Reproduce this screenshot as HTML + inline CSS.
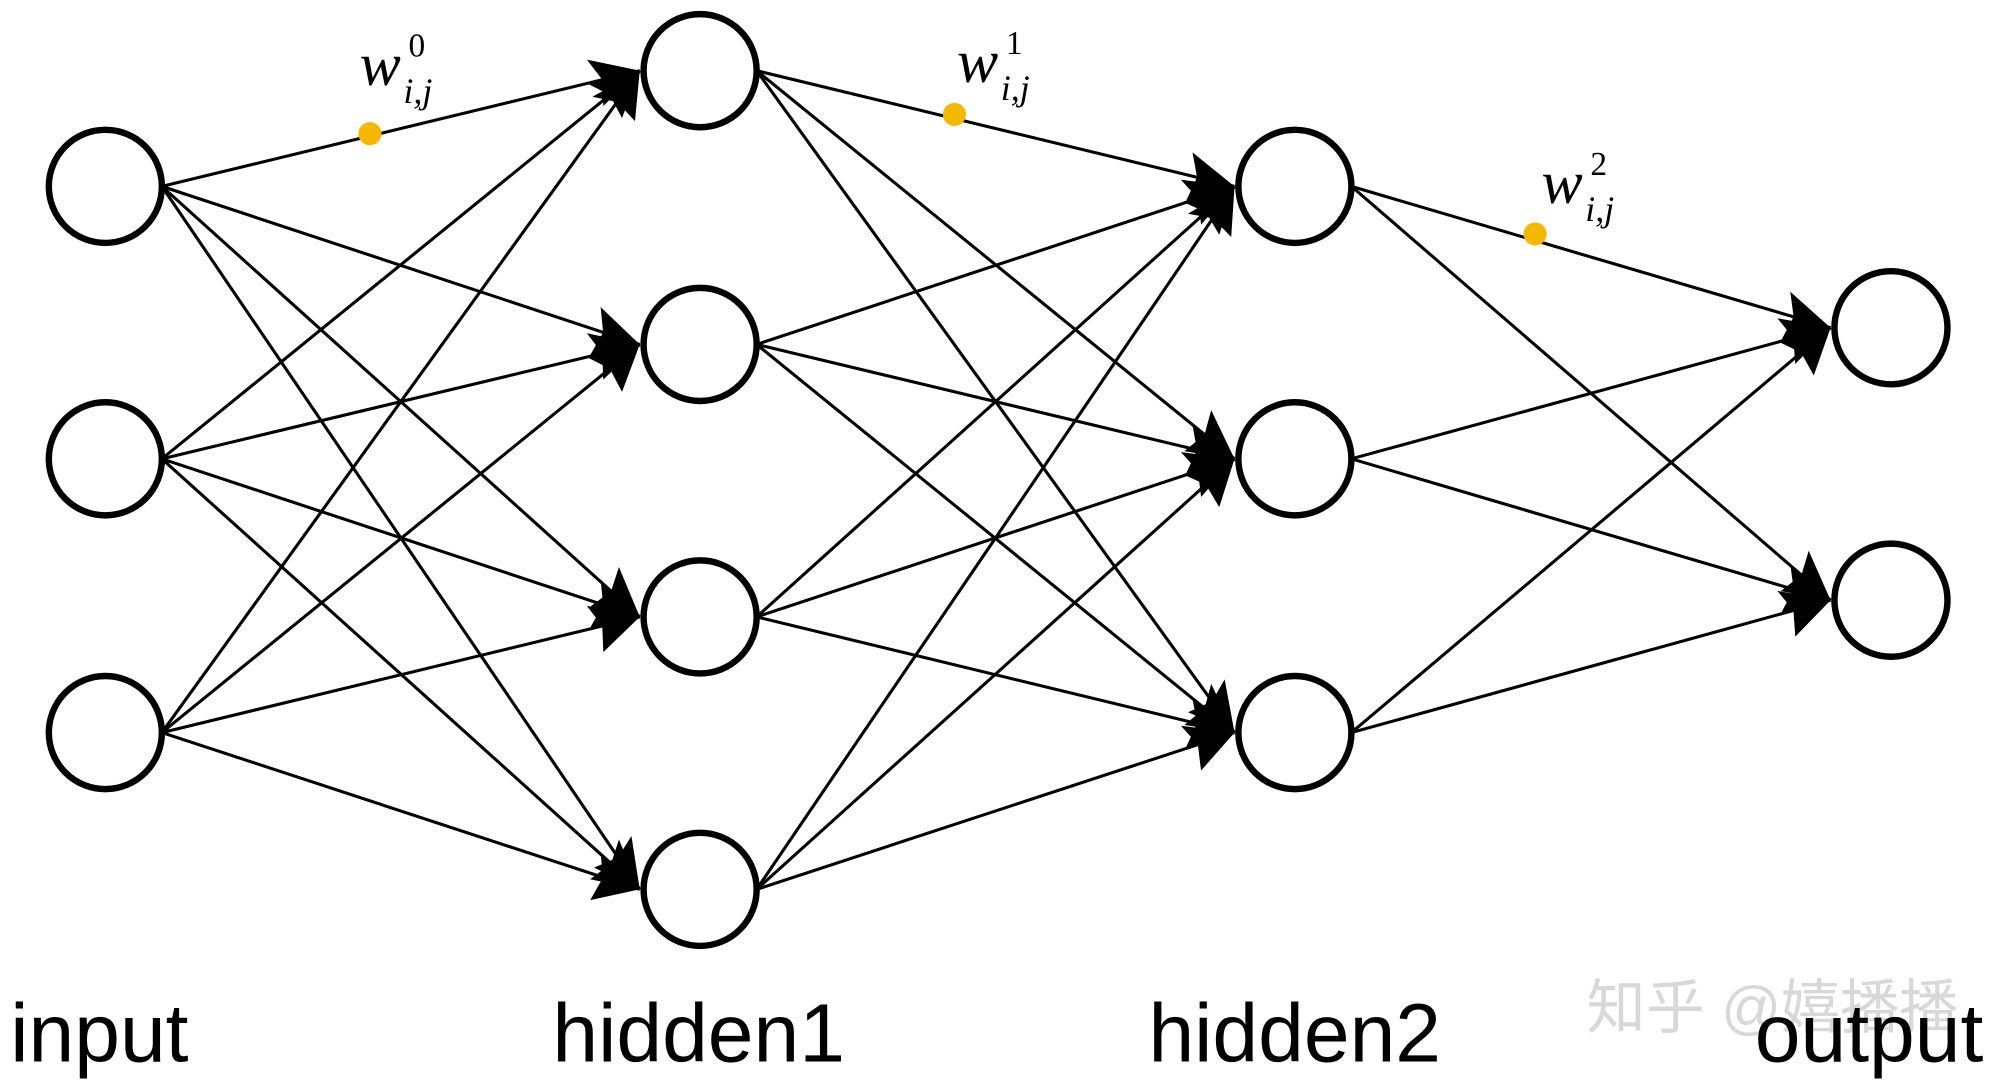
<!DOCTYPE html>
<html><head><meta charset="utf-8"><style>
html,body{margin:0;padding:0;background:#fff;}
svg{display:block;}
</style></head><body>
<svg id="s" width="2004" height="1086" viewBox="0 0 1560 845" preserveAspectRatio="none" xmlns="http://www.w3.org/2000/svg">
<defs>
<marker id="a" markerUnits="userSpaceOnUse" markerWidth="44" markerHeight="44" refX="38" refY="20" orient="auto">
<path d="M0,2 L38,20 L4,40 L8,20 z" fill="#000"/>
</marker>
</defs>
<g id="edges" stroke="#000" stroke-width="2.4"></g>
<g id="nodes" fill="#fff" stroke="#000" stroke-width="5"></g>
<g fill="#f5b800">
<circle cx="288" cy="104" r="9"/>
<circle cx="743" cy="89" r="9"/>
<circle cx="1195" cy="182" r="9"/>
</g>
<g font-family="Liberation Serif, serif" fill="#000">
<text x="280" y="66" font-size="48" font-style="italic">w</text><text x="318" y="44" font-size="26">0</text><text x="314" y="80" font-size="28" font-style="italic">i,j</text>
<text x="745" y="64" font-size="48" font-style="italic">w</text><text x="783" y="42" font-size="26">1</text><text x="779" y="78" font-size="28" font-style="italic">i,j</text>
<text x="1200" y="158" font-size="48" font-style="italic">w</text><text x="1238" y="136" font-size="26">2</text><text x="1234" y="172" font-size="28" font-style="italic">i,j</text>
</g>
<text x="1235" y="800" font-family="Liberation Sans, Noto Sans CJK SC, sans-serif" font-size="46" fill="#d8d8d8">知乎 @嬉播播</text>
<g font-family="Liberation Sans, sans-serif" font-size="64" fill="#000">
<text x="8" y="826">input</text>
<text x="430" y="826">hidden1</text>
<text x="894" y="826">hidden2</text>
<text x="1366" y="826">output</text>
</g>
</svg>
<script>
var L=[[82,[145,357,570]],[545,[55,268,480,692]],[1008,[145,357,570]],[1472,[255,467]]];
var r=44,ns="http://www.w3.org/2000/svg",E=document.getElementById('edges'),N=document.getElementById('nodes');
for(var l=0;l<L.length;l++){
 L[l][1].forEach(function(y){var c=document.createElementNS(ns,'circle');c.setAttribute('cx',L[l][0]);c.setAttribute('cy',y);c.setAttribute('r',r);N.appendChild(c);});
 if(l<L.length-1){
  L[l][1].forEach(function(y1){L[l+1][1].forEach(function(y2){
   var x1=L[l][0]+r,x2=L[l+1][0]-r-3;
   var e=document.createElementNS(ns,'line');
   e.setAttribute('x1',x1);e.setAttribute('y1',y1);
   e.setAttribute('x2',x2);e.setAttribute('y2',y2);
   e.setAttribute('marker-end','url(#a)');E.appendChild(e);
  });});
 }
}
</script>
</body></html>
